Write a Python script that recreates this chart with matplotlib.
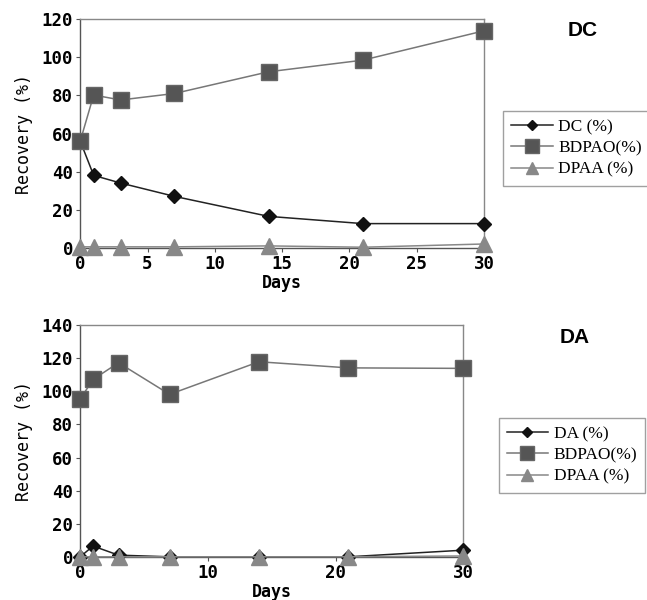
import numpy as np
import matplotlib.pyplot as plt

days = [0, 1, 3, 7, 14, 21, 30]

# DC panel
dc_dc = [56, 38, 34, 27, 16.5, 12.7, 12.7]
dc_bdpao = [56, 80.2, 77.6, 81, 92.4, 98.5, 113.9]
dc_dpaa = [0.5, 0.5, 0.5, 0.5, 1, 0.3, 2]

# DA panel
da_da = [0, 6.5, 1, 0, 0, 0, 4]
da_bdpao = [95.3, 107.2, 117.3, 98.2, 117.9, 114.2, 113.9]
da_dpaa = [0, 0, 0, 0, 0, 0, 0.5]

fig = plt.figure(figsize=(6.47, 6.0), dpi=100)
ax1 = fig.add_axes([0.124, 0.587, 0.624, 0.381])
ax2 = fig.add_axes([0.124, 0.072, 0.592, 0.386])


def panel(ax, first, bdpao, dpaa, name, ymax, xticks, title, title_xy, leg_box):
    ax.plot(days, first, color='#222222', lw=1.1, marker='D', ms=7,
            mfc='#111111', mec='#111111', label=name + ' (%)', zorder=3)
    ax.plot(days, bdpao, color='#777777', lw=1.1, marker='s', ms=12,
            mfc='#555555', mec='#666666', label='BDPAO(%)', zorder=3)
    ax.plot(days, dpaa, color='#888888', lw=1.1, marker='^', ms=11,
            mfc='#888888', mec='#888888', label='DPAA (%)', zorder=3)
    ax.set_xlim(0, 30)
    ax.set_ylim(0, ymax)
    ax.set_xticks(xticks)
    ax.set_yticks(np.arange(0, ymax + 1, 20))
    for s in ax.spines.values():
        s.set_color('#888888')
        s.set_linewidth(1)
    ax.spines['left'].set_color('#555555')
    ax.spines['bottom'].set_color('#555555')
    ax.tick_params(length=3, color='#555555', pad=2)
    for t in ax.get_xticklabels() + ax.get_yticklabels():
        t.set_fontfamily('DejaVu Sans Mono')
        t.set_fontweight('bold')
        t.set_fontsize(12.5)
    for ln in ax.get_lines():
        ln.set_clip_on(False)
    ax.set_xlabel('Days', fontfamily='DejaVu Sans Mono', fontweight='bold',
                  fontsize=12, labelpad=1)
    ax.set_ylabel('Recovery (%)', fontfamily='DejaVu Sans Mono', fontsize=12,
                  labelpad=6)
    fig.text(title_xy[0], title_xy[1], title, fontsize=15, fontweight='bold',
             fontfamily='Liberation Sans', ha='center', va='center')
    leg = ax.legend(loc='upper left', bbox_to_anchor=leg_box,
                    bbox_transform=fig.transFigure, frameon=True,
                    fancybox=False, edgecolor='#888888', handlelength=2.4,
                    borderpad=0.45, labelspacing=0.3, handletextpad=0.3,
                    borderaxespad=0,
                    prop={'family': 'Liberation Serif', 'size': 12.5},
                    markerscale=0.8)
    leg.get_frame().set_linewidth(1)


panel(ax1, dc_dc, dc_bdpao, dc_dpaa, 'DC', 120, [0, 5, 10, 15, 20, 25, 30],
      'DC', (0.9, 0.95), (0.778, 0.815))
panel(ax2, da_da, da_bdpao, da_dpaa, 'DA', 140, [0, 10, 20, 30],
      'DA', (0.889, 0.437), (0.771, 0.303))

fig.savefig('out.png', dpi=100)
